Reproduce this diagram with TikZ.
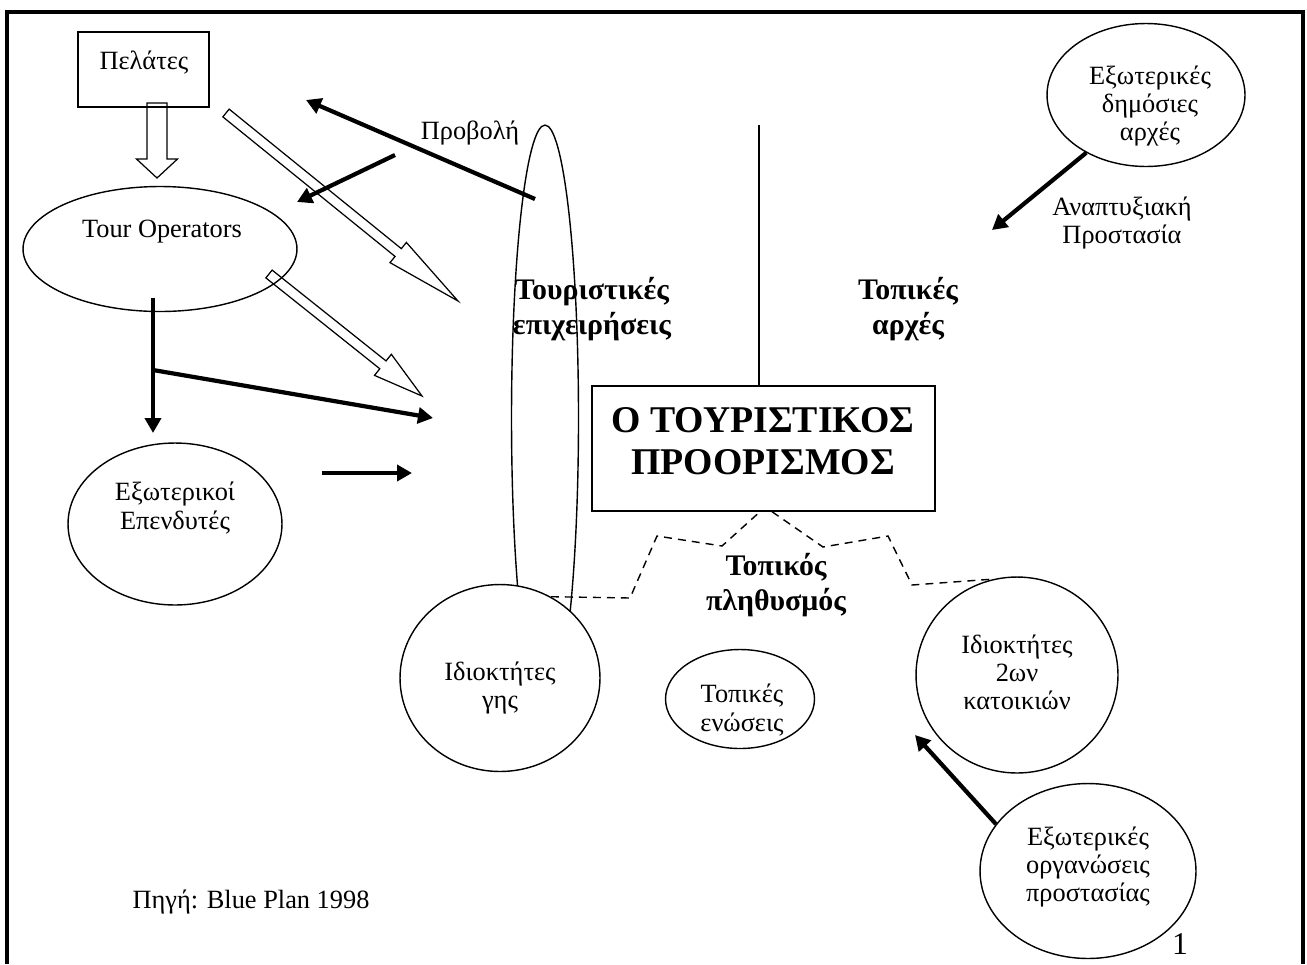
\documentclass[tikz,border=0pt]{standalone}
\usepackage{fontspec}
\setmainfont{Liberation Serif}
\usetikzlibrary{arrows.meta,calc,shapes.geometric}

\newcommand{\bodyfont}{\fontsize{15}{16}\selectfont}
\newcommand{\labelfont}{\fontsize{17}{20}\selectfont\bfseries}
\newcommand{\titlefont}{\fontsize{21.5}{24}\selectfont\bfseries}

% hollow block arrow: tail, tip, shaft half width, head half width, head length
\newcommand{\blockarrow}[5]{%
	\coordinate (#1-#2) at ($(#2)!#5!(#1)$);
	\draw[hollow] ($(#1)!#3!90:(#2)$) -- ($(#1-#2)!#3!-90:(#1)$) -- ($(#1-#2)!#4!-90:(#1)$)
		-- (#2) -- ($(#1-#2)!#4!90:(#1)$) -- ($(#1-#2)!#3!90:(#1)$) -- ($(#1)!#3!-90:(#2)$) -- cycle;}

\begin{document}
\begin{tikzpicture}[x=0.02cm, y=-0.02cm,
	outline/.style = { draw, line width=0.8pt },
	oval/.style = { outline, ellipse, inner sep=0pt },
	box/.style = { outline, rectangle, inner sep=0pt },
	txt/.style = { align=center, inner sep=0pt, font=\bodyfont },
	bold/.style = { align=center, inner sep=0pt, font=\labelfont },
	push/.style = { line width=2.4pt, -{Triangle[length=0.3cm, width=0.32cm]} },
	hollow/.style = { draw, line width=0.7pt },
	dashline/.style = { line width=0.8pt, dash pattern=on 0.16cm off 0.12cm },
	pageframe/.style = { line width=2.6pt }]
	\useasboundingbox (0,0) rectangle (1307,964);
	\draw[pageframe] (7,964) -- (7,12) -- (1303,12) -- (1303,964);

	% actors
	\node[box, minimum width=2.62cm, minimum height=1.5cm] (clients) at (143.5,69.5) {};
	\node[txt] (clientstxt) at (144,63) {Πελάτες};
	\node[oval, minimum width=5.48cm, minimum height=2.5cm] (tour) at (160,249) {};
	\node[txt] (tourtxt) at (162,232) {Tour Operators};
	\node[oval, minimum width=4.28cm, minimum height=3.24cm] (invest) at (175,524) {};
	\node[txt] (investtxt) at (175,508) {Εξωτερικοί\\Επενδυτές};
	\node[oval, minimum width=1.34cm, minimum height=11.72cm] (firms) at (545,418) {};
	\node[bold] (firmstxt) at (592,309) {Τουριστικές\\επιχειρήσεις};
	\node[oval, fill=white, minimum width=4cm, minimum height=3.74cm] (land) at (500,678) {};
	\node[txt] (landtxt) at (500,688) {Ιδιοκτήτες\\γης};
	\node[box, minimum width=6.86cm, minimum height=2.5cm] (dest) at (763.5,448.5) {};
	\node[font=\titlefont, align=center, inner sep=0pt] (desttxt) at (763,441) {Ο ΤΟΥΡΙΣΤΙΚΟΣ\\ΠΡΟΟΡΙΣΜΟΣ};
	\node[bold] (localtxt) at (908,309) {Τοπικές\\αρχές};
	\node[bold] (peopletxt) at (776,585) {Τοπικός\\πληθυσμός};
	\node[oval, minimum width=2.98cm, minimum height=1.98cm] (unions) at (740,699) {};
	\node[txt] (unionstxt) at (742,710) {Τοπικές\\ενώσεις};
	\node[oval, minimum width=3.96cm, minimum height=2.86cm] (public) at (1146,95) {};
	\node[txt] (publictxt) at (1150,106) {Εξωτερικές\\δημόσιες\\αρχές};
	\node[oval, minimum width=4.04cm, minimum height=3.92cm] (homes) at (1017,675) {};
	\node[txt] (homestxt) at (1017,672) {Ιδιοκτήτες\\2ων\\κατοικιών};
	\node[oval, minimum width=4.32cm, minimum height=3.5cm] (ngos) at (1088,871) {};
	\node[txt] (ngostxt) at (1088,867) {Εξωτερικές\\οργανώσεις\\προστασίας};

	% free labels
	\node[txt] (promo) at (470,133) {Προβολή};
	\node[txt] (devprot) at (1122,223) {Αναπτυξιακή\\Προστασία};
	\node[txt] (source) at (251,902) {Πηγή: Blue Plan 1998};
	\node[font=\fontsize{18}{20}\selectfont, inner sep=0pt] (pageno) at (1180,944) {1};

	% arrow ends
	\coordinate (clientsout) at (157,103);
	\coordinate (tourin) at (157,178);
	\coordinate (flow1a) at (226,113);
	\coordinate (flow1b) at (458,301);
	\coordinate (flow2a) at (269,274);
	\coordinate (flow2b) at (422,396);
	\coordinate (promoa) at (535,199);
	\coordinate (promob) at (306,100);
	\coordinate (backa) at (395,155);
	\coordinate (backb) at (297,202);
	\coordinate (toura) at (153,298);
	\coordinate (investin) at (153,433);
	\coordinate (fork) at (153,370);
	\coordinate (forkb) at (433,418);
	\coordinate (investa) at (322,473);
	\coordinate (investb) at (412,473);
	\coordinate (devb) at (992,230);
	\coordinate (protb) at (915,735);
	\coordinate (divider) at (759,125);

	% connectors
	\blockarrow{clientsout}{tourin}{0.2cm}{0.41cm}{0.38cm}
	\blockarrow{flow1a}{flow1b}{0.1cm}{0.26cm}{1.54cm}
	\blockarrow{flow2a}{flow2b}{0.1cm}{0.27cm}{1.0cm}
	\draw[push] (promoa) -- (promob);
	\draw[push] (backa) -- (backb);
	\draw[push] (toura) -- (investin);
	\draw[push] (fork) -- (forkb);
	\draw[push] (investa) -- (investb);
	\draw[push] (public.224) -- (devb);
	\draw[push] (ngos.153) -- (protb);
	\draw[outline] (divider) -- (divider |- dest.north);
	\draw[dashline] (land.58) -- (630,598) -- (657,536) -- (722,546) -- ([xshift=-0.07cm]dest.south);
	\draw[dashline] ([xshift=0.17cm]dest.south) -- (823,547) -- (888,536) -- (912,585) -- (homes.104);
\end{tikzpicture}
\end{document}
